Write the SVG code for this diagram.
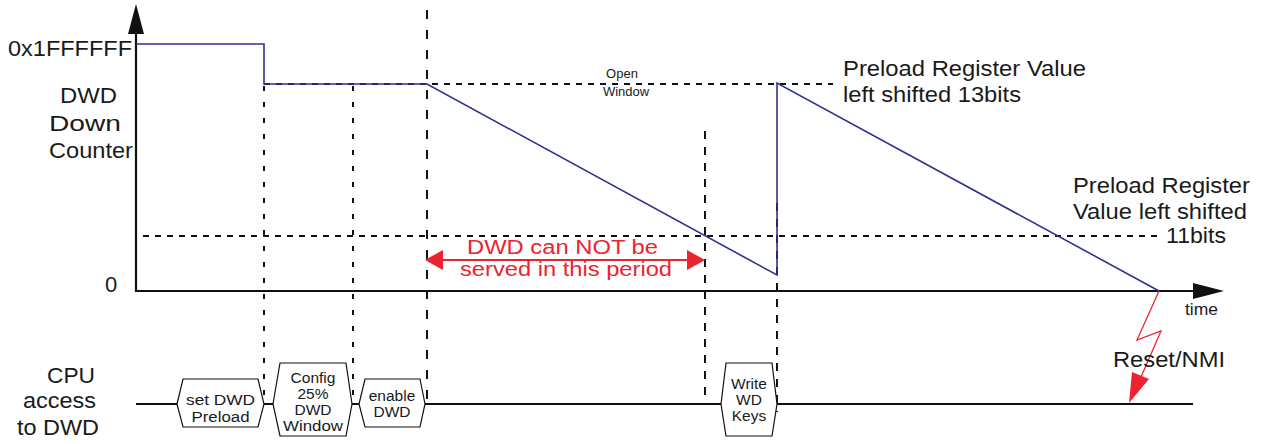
<svg xmlns="http://www.w3.org/2000/svg" width="1263" height="444" viewBox="0 0 1263 444">
<style>
text{font-family:"Liberation Sans",Arial,sans-serif;fill:#1a1a1a}
.lbl{font-size:22px}
.rl{font-size:20px;fill:#ec2330}
.box{font-size:15.5px;text-anchor:middle}
.sm{font-size:13px;text-anchor:middle}
.ax{stroke:#111;stroke-width:2.2;fill:none}
.dl{stroke:#111;stroke-width:2;fill:none}
.hex{fill:#fff;stroke:#111;stroke-width:1.2}
</style>
<rect width="1263" height="444" fill="#fff"/>
<g id="connectors">
  <line class="dl" x1="264" y1="84" x2="833" y2="84" stroke-dasharray="6,6"/>
  <line class="dl" x1="143" y1="236" x2="1159" y2="236" stroke-dasharray="6,6"/>
  <line class="dl" x1="264" y1="86" x2="264" y2="398" stroke-dasharray="5,11"/>
  <line class="dl" x1="353" y1="86" x2="353" y2="398" stroke-dasharray="5,11"/>
  <line class="dl" x1="427" y1="10" x2="427" y2="400" stroke-dasharray="9,11"/>
  <line class="dl" x1="705" y1="131" x2="705" y2="402" stroke-dasharray="8,8"/>
  <line class="dl" x1="777" y1="203" x2="777" y2="412" stroke-dasharray="8,8"/>
  <line class="ax" x1="136" y1="30" x2="136" y2="292"/>
  <polygon points="136,4 128,34 144,34" fill="#111"/>
  <line class="ax" x1="135" y1="291" x2="1196" y2="291"/>
  <polygon points="1224,291 1193,283 1193,299" fill="#111"/>
  <line class="ax" x1="136" y1="404" x2="1193" y2="404"/>
  <polyline points="136,44 264,44 264,84 427,84 777,275 777,83 1159,291" fill="none" stroke="#2e3192" stroke-width="1.6"/>
  <line x1="440" y1="260" x2="690" y2="260" stroke="#ec2330" stroke-width="2.2"/>
  <polygon points="425,260 443,250 443,270" fill="#ec2330"/>
  <polygon points="705,260 687,250 687,270" fill="#ec2330"/>
  <polyline points="1159,291 1137,340 1161,331 1141,377" fill="none" stroke="#ec2330" stroke-width="1.3"/>
  <polygon points="1129,403 1132,372 1149,379" fill="#ec2330"/>
</g>
<g id="node-set-preload">
  <polygon class="hex" points="177,404 183,379 258,379 264,404 258,427 183,427"/>
  <text class="box" x="220.5" y="405" textLength="69" lengthAdjust="spacingAndGlyphs">set DWD</text>
  <text class="box" x="220.5" y="422" textLength="58" lengthAdjust="spacingAndGlyphs">Preload</text>
</g>
<g id="node-config">
  <polygon class="hex" points="273,404 280,363 346,363 352,404 346,436 280,436"/>
  <text class="box" x="313" y="383">Config</text>
  <text class="box" x="313" y="399">25%</text>
  <text class="box" x="313" y="415">DWD</text>
  <text class="box" x="313" y="431" textLength="60" lengthAdjust="spacingAndGlyphs">Window</text>
</g>
<g id="node-enable">
  <polygon class="hex" points="359,404 365,379 420,379 425,404 420,427 365,427"/>
  <text class="box" x="392" y="401">enable</text>
  <text class="box" x="392" y="417">DWD</text>
</g>
<g id="node-write-keys">
  <polygon class="hex" points="721,404 726,363 772,363 777,404 772,436 726,436"/>
  <text class="box" x="749" y="389">Write</text>
  <text class="box" x="749" y="405">WD</text>
  <text class="box" x="749" y="421">Keys</text>
</g>
<g id="labels">
  <text class="lbl" x="8" y="56" textLength="124" lengthAdjust="spacingAndGlyphs">0x1FFFFFF</text>
  <text class="lbl" x="60" y="103" textLength="57" lengthAdjust="spacingAndGlyphs">DWD</text>
  <text class="lbl" x="49" y="131" textLength="72" lengthAdjust="spacingAndGlyphs">Down</text>
  <text class="lbl" x="49" y="158" textLength="84" lengthAdjust="spacingAndGlyphs">Counter</text>
  <text class="lbl" x="105" y="292">0</text>
  <text class="lbl" x="47" y="383" textLength="48" lengthAdjust="spacingAndGlyphs">CPU</text>
  <text class="lbl" x="23" y="408" textLength="73" lengthAdjust="spacingAndGlyphs">access</text>
  <text class="lbl" x="17" y="435" textLength="82" lengthAdjust="spacingAndGlyphs">to DWD</text>
  <text class="lbl" x="843" y="76" textLength="243" lengthAdjust="spacingAndGlyphs">Preload Register Value</text>
  <text class="lbl" x="843" y="102" textLength="178" lengthAdjust="spacingAndGlyphs">left shifted 13bits</text>
  <text class="lbl" x="1073" y="193" textLength="177" lengthAdjust="spacingAndGlyphs">Preload Register</text>
  <text class="lbl" x="1073" y="219" textLength="174" lengthAdjust="spacingAndGlyphs">Value left shifted</text>
  <text class="lbl" x="1166" y="243" textLength="60" lengthAdjust="spacingAndGlyphs">11bits</text>
  <text class="sm" x="622" y="78">Open</text>
  <text class="sm" x="626" y="96">Window</text>
  <text class="rl" x="467" y="254" textLength="191" lengthAdjust="spacingAndGlyphs">DWD can NOT be</text>
  <text class="rl" x="460" y="276" textLength="212" lengthAdjust="spacingAndGlyphs">served in this period</text>
  <text class="lbl" x="1113" y="367" textLength="112" lengthAdjust="spacingAndGlyphs">Reset/NMI</text>
  <text x="1185" y="315" font-size="17" textLength="33" lengthAdjust="spacingAndGlyphs">time</text>
</g>
</svg>
